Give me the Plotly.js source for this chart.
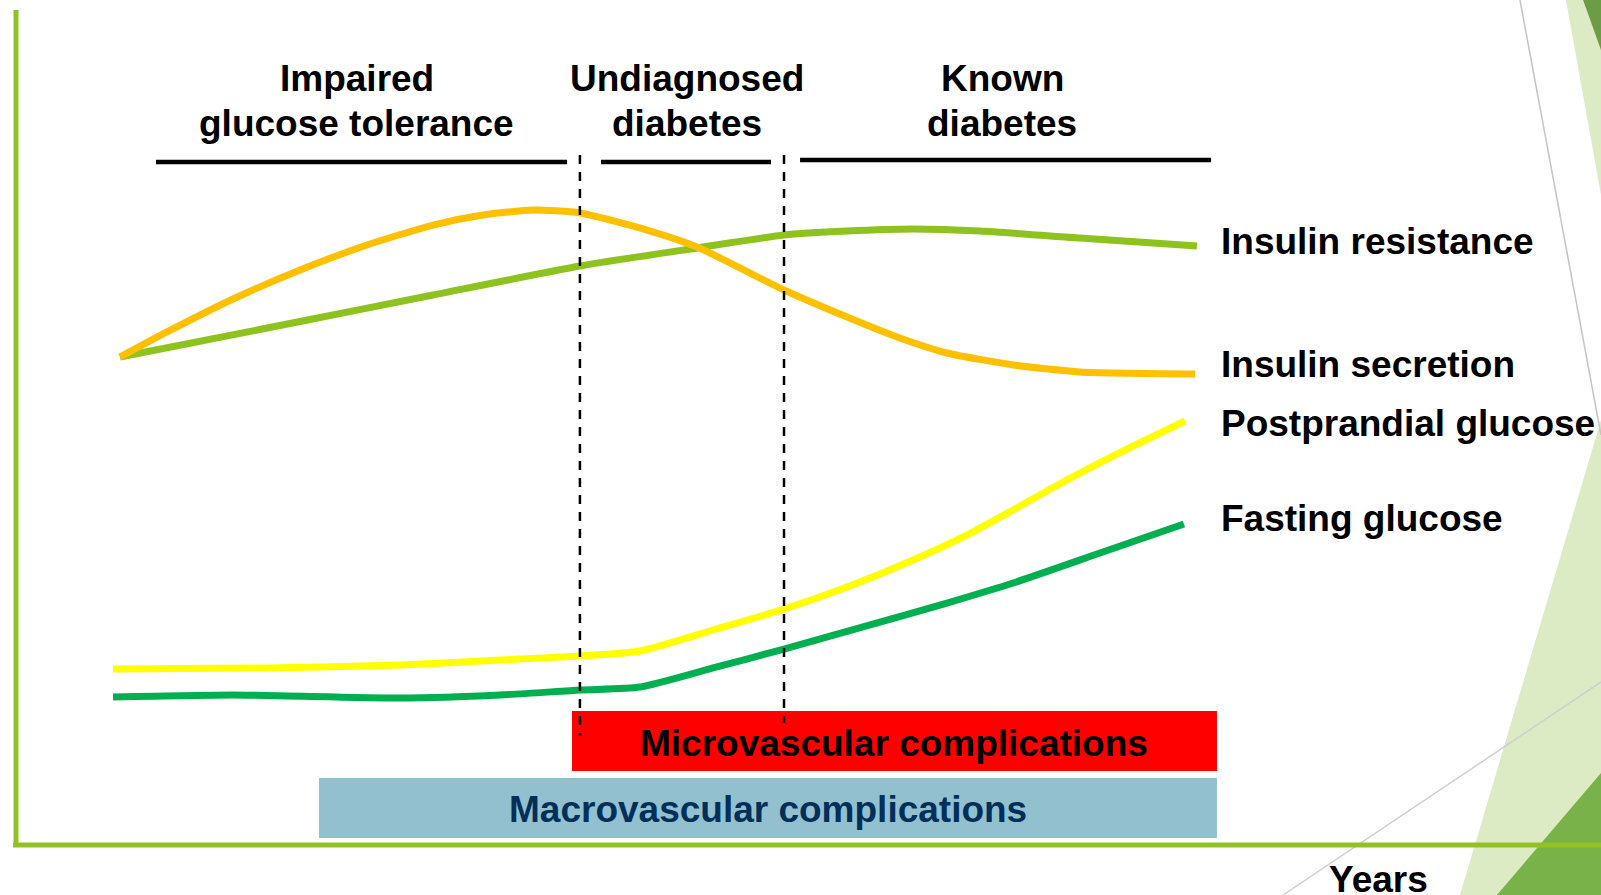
<!DOCTYPE html>
<html><head><meta charset="utf-8">
<script src="https://cdn.plot.ly/plotly-3.0.1.min.js"></script>
<style>html,body{margin:0;padding:0;background:#fff;overflow:hidden}#chart{width:1601px;height:895px}</style>
</head><body><div id="chart"></div>
<script>
// ---- data (x: time in relative years 0..100, y: relative level 0..100) ----
const seriesNames = ['Insulin resistance', 'Insulin secretion', 'Postprandial glucose', 'Fasting glucose'];

const resistanceX = [6.68, 18.02, 26.40, 35.66, 43.04, 48.52, 52.49, 56.65, 60.87, 67.17, 74.54];
const resistanceY = [58.44, 62.69, 65.87, 69.34, 71.50, 73.05, 73.53, 73.77, 73.53, 72.69, 71.74];

const secretionX = [6.68, 9.64, 13.80, 18.02, 22.24, 26.40, 29.55, 32.70, 35.66, 39.89, 43.04, 48.52, 52.49, 55.64, 58.79, 62.95, 67.17, 74.42];
const secretionY = [58.44, 61.44, 65.39, 68.86, 71.86, 74.25, 75.45, 76.05, 75.69, 73.65, 71.62, 66.47, 63.23, 60.84, 58.92, 57.49, 56.65, 56.41];

const postprandialX = [6.24, 15.94, 24.32, 30.62, 35.66, 39.45, 44.05, 48.52, 52.49, 56.65, 59.80, 62.95, 66.10, 69.90, 73.79];
const postprandialY = [21.08, 21.20, 21.56, 22.16, 22.63, 23.23, 25.75, 28.26, 30.90, 34.13, 36.89, 40.12, 43.47, 47.20, 50.78];

const fastingX = [6.24, 13.80, 24.32, 30.62, 35.66, 39.45, 44.05, 48.52, 53.50, 58.79, 62.95, 68.43, 73.72];
const fastingY = [17.72, 17.96, 17.60, 17.96, 18.56, 18.92, 21.20, 23.47, 26.11, 28.98, 31.38, 34.97, 38.44];

const phaseLine1 = ['Impaired', 'Undiagnosed', 'Known'];
const phaseLine2 = ['glucose tolerance', 'diabetes', 'diabetes'];
const phaseStart = [8.95, 36.99, 49.53];
const phaseEnd = [34.85, 47.70, 75.43];
const phaseBoundaries = [35.66, 48.52];

const complicationNames = ['Microvascular complications', 'Macrovascular complications'];
const complicationStart = [35.16, 19.22];
const complicationEnd = [75.80, 75.80];

const axisTitle = 'Years';

// ---- layout / styling ----
const FONT = 'Liberation Sans, Arial, Helvetica, sans-serif';
const lineColors = ['#8dc21f', '#ffc000', '#ffff00', '#00b050'];
const seriesX = [resistanceX, secretionX, postprandialX, fastingX];
const seriesY = [resistanceY, secretionY, postprandialY, fastingY];
const labelY = [72.22, 57.49, 50.42, 39.16];
const labelX = 75.93;

const traces = seriesNames.map((name, i) => ({
  type: 'scatter', mode: 'lines', name: name,
  x: seriesX[i], y: seriesY[i],
  line: {color: lineColors[i], width: 7, shape: 'spline', smoothing: 0.6},
  hoverinfo: 'skip'
}));

const shapes = [];
// decorative background (slide theme)
const P = (pts) => 'M ' + pts.map(p => p[0] + ',' + p[1]).join(' L ') + ' Z';
shapes.push({type: 'path', xref: 'paper', yref: 'paper', layer: 'below', line: {width: 0}, fillcolor: '#dcebc4',
  path: P([[0.9119, 0], [1, 0.5307], [1, 0]])});
shapes.push({type: 'path', xref: 'paper', yref: 'paper', layer: 'below', line: {width: 0}, fillcolor: '#78b249',
  path: P([[0.9350, 0], [1, 0.1363], [1, 0]])});
shapes.push({type: 'path', xref: 'paper', yref: 'paper', layer: 'below', line: {width: 0}, fillcolor: '#dcebc4',
  path: P([[0.9781, 1], [1, 1], [1, 0.7821]])});
shapes.push({type: 'path', xref: 'paper', yref: 'paper', layer: 'below', line: {width: 0}, fillcolor: '#6c9c46',
  path: P([[0.9888, 1], [1, 1], [1, 0.9441]])});
shapes.push({type: 'line', xref: 'paper', yref: 'paper', layer: 'below', x0: 0.9494, y0: 1, x1: 1, y1: 0.5140,
  line: {color: '#c4c4c4', width: 1.5}});
shapes.push({type: 'line', xref: 'paper', yref: 'paper', layer: 'below', x0: 0.8014, y0: 0, x1: 1, y1: 0.2380,
  line: {color: '#cfcfcf', width: 1.5}});
// axes
shapes.push({type: 'line', xref: 'x', yref: 'y', layer: 'below', x0: 0.126, y0: 100, x1: 0.126, y1: 0,
  line: {color: '#92c125', width: 5}});
shapes.push({type: 'line', xref: 'x', yref: 'y', layer: 'below', x0: -0.06, y0: 0, x1: 100.2, y1: 0,
  line: {color: '#92c125', width: 5}});
// complication bars
const compColors = ['#ff0000', '#93c0cf'];
const compY0 = [8.86, 0.84], compY1 = [16.05, 8.02];
complicationNames.forEach((n, i) => {
  shapes.push({type: 'rect', xref: 'x', yref: 'y', layer: 'above', x0: complicationStart[i], x1: complicationEnd[i],
    y0: compY0[i], y1: compY1[i], fillcolor: compColors[i], line: {width: 0}});
});
// phase boundaries
const boundaryBottom = [13.1, 14.6];
phaseBoundaries.forEach((b, i) => {
  shapes.push({type: 'line', xref: 'x', yref: 'y', layer: 'above', x0: b, x1: b, y0: 82.63, y1: boundaryBottom[i],
    line: {color: '#000', width: 2.5, dash: '9px,8px'}});
});
// phase underlines
const phaseBarY = [81.80, 81.80, 82.04];
phaseStart.forEach((s, i) => {
  shapes.push({type: 'line', xref: 'x', yref: 'y', layer: 'above', x0: s, x1: phaseEnd[i], y0: phaseBarY[i], y1: phaseBarY[i],
    line: {color: '#000', width: 4.5}});
});

const annotations = [];
const phaseCenter = [21.61, 42.41, 62.26];
phaseLine1.forEach((t, i) => {
  annotations.push({x: phaseCenter[i], y: 91.74, text: '<b>' + t + '</b>'});
  annotations.push({x: phaseCenter[i], y: 86.35, text: '<b>' + phaseLine2[i] + '</b>'});
});
seriesNames.forEach((n, i) => {
  annotations.push({x: labelX, y: labelY[i], text: '<b>' + n + '</b>', xanchor: 'left'});
});
const compTextX = [55.48, 47.51], compTextY = [12.1, 4.2], compTextColor = ['#000000', '#00305a'];
complicationNames.forEach((n, i) => {
  annotations.push({x: compTextX[i], y: compTextY[i], text: '<b>' + n + '</b>', font: {family: FONT, size: 37, color: compTextColor[i]}});
});
annotations.push({x: 85.95, y: -4.1, text: '<b>' + axisTitle + '</b>', font: {family: FONT, size: 37, color: '#000'}});

annotations.forEach(a => {
  a.showarrow = false;
  if (!a.xanchor) a.xanchor = 'center';
  a.yanchor = 'middle';
  a.xref = 'x'; a.yref = 'y';
  if (!a.font) a.font = {family: FONT, size: 37, color: '#000'};
});

const layout = {
  width: 1601, height: 895,
  margin: {l: 0, r: 0, t: 0, b: 0, pad: 0},
  paper_bgcolor: '#ffffff', plot_bgcolor: 'rgba(0,0,0,0)',
  showlegend: false,
  xaxis: {range: [-0.882, 100.0], visible: false, fixedrange: true},
  yaxis: {range: [-5.988, 101.198], visible: false, fixedrange: true},
  shapes: shapes,
  annotations: annotations
};

Plotly.newPlot('chart', traces, layout, {displayModeBar: false, staticPlot: true});
</script>
</body></html>
